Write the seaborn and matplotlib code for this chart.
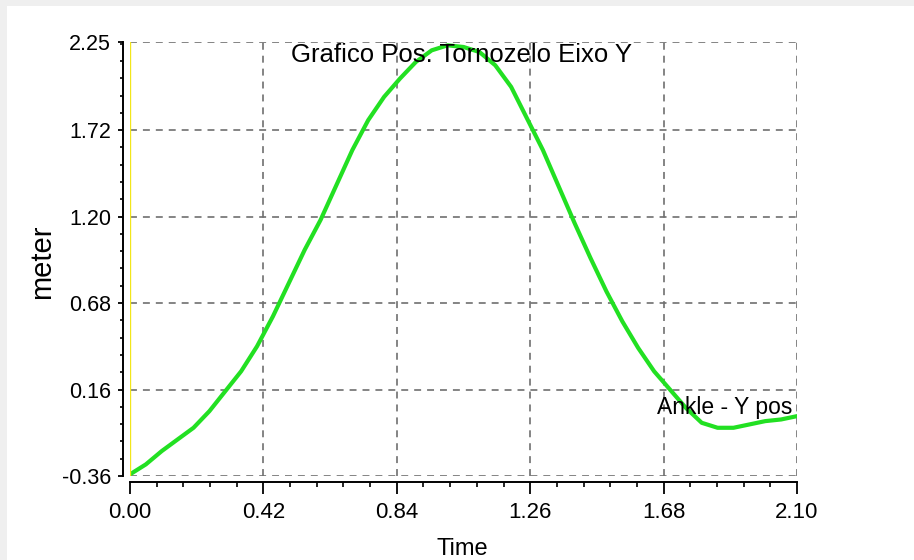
import matplotlib
matplotlib.use("Agg")
import matplotlib.pyplot as plt
import numpy as np
import pandas as pd
import seaborn as sns
from matplotlib.patches import Rectangle
from matplotlib.ticker import AutoMinorLocator, FixedLocator

# Values
time_s = [0.00, 0.05, 0.10, 0.15, 0.20, 0.25, 0.30, 0.35, 0.40, 0.45,
          0.50, 0.55, 0.60, 0.65, 0.70, 0.75, 0.80, 0.85, 0.90, 0.95,
          1.00, 1.05, 1.10, 1.15, 1.20, 1.25, 1.30, 1.35, 1.40, 1.45,
          1.50, 1.55, 1.60, 1.65, 1.70, 1.75, 1.80, 1.85, 1.90, 1.95,
          2.00, 2.05, 2.10]
ankle_y = [-0.35, -0.29, -0.21, -0.14, -0.07, 0.03, 0.15, 0.27, 0.42, 0.60,
           0.80, 1.00, 1.18, 1.39, 1.60, 1.78, 1.92, 2.03, 2.13, 2.20,
           2.23, 2.22, 2.19, 2.11, 1.98, 1.79, 1.60, 1.38, 1.16, 0.95,
           0.75, 0.57, 0.41, 0.27, 0.16, 0.05, -0.04, -0.07, -0.07, -0.05,
           -0.03, -0.02, 0.00]
cursor_time = [0.0]
x_ticks = [0.00, 0.42, 0.84, 1.26, 1.68, 2.10]
y_ticks = [-0.36, 0.16, 0.68, 1.20, 1.72, 2.25]

title = "Grafico Pos. Tornozelo Eixo Y"
series_name = "Ankle - Y pos"

df = pd.DataFrame({"Time": time_s, "meter": ankle_y})

sns.set_theme(style="ticks")
plt.rcParams["font.family"] = ["Liberation Sans Narrow", "Liberation Sans", "DejaVu Sans"]
plt.rcParams["lines.scale_dashes"] = False

fig = plt.figure(figsize=(9.14, 5.60), dpi=100, facecolor="#efefef")
# white panel inside the thin grey frame (top and left)
fig.patches.append(Rectangle((7 / 914, 0), 1, 1 - 6 / 560, transform=fig.transFigure,
                             facecolor="white", edgecolor="none", zorder=-10))
ax = fig.add_axes([130 / 914, 1 - 476 / 560, 667 / 914, 434 / 560])
ax.set_facecolor("white")

sns.lineplot(data=df, x="Time", y="meter", ax=ax, color="#22e022", linewidth=3.0,
             sort=False, estimator=None)
for c in cursor_time:
    ax.axvline(c, color="#f2e61a", linewidth=1.7, zorder=3)

ax.set_xlim(x_ticks[0], x_ticks[-1])
ax.set_ylim(y_ticks[0], y_ticks[-1])
ax.xaxis.set_major_locator(FixedLocator(x_ticks))
ax.yaxis.set_major_locator(FixedLocator(y_ticks))
ax.set_xticklabels([f"{v:.2f}" for v in x_ticks])
ax.set_yticklabels([f"{v:.2f}" for v in y_ticks])
ax.xaxis.set_minor_locator(AutoMinorLocator(5))
ax.yaxis.set_minor_locator(AutoMinorLocator(5))

ax.grid(True, which="major", color="#707070", linestyle=(0, (5, 4.3)), linewidth=1.2)

sns.despine(ax=ax, offset={"left": 5, "bottom": 4.5})
for side in ["left", "bottom"]:
    ax.spines[side].set_linewidth(1.4)
    ax.spines[side].set_color("black")

ax.tick_params(axis="x", which="major", length=8.5, width=1.3, pad=6, labelsize=16, colors="black")
ax.tick_params(axis="x", which="minor", length=3.6, width=1.2, colors="black")
ax.tick_params(axis="y", which="major", length=3.6, width=1.3, pad=5, labelsize=15.5, colors="black")
ax.tick_params(axis="y", which="minor", length=2.2, width=1.2, colors="black")

ax.set_ylabel("meter", fontsize=21, color="black", va="center")
ax.yaxis.set_label_coords(-0.132, 0.493)
ax.set_xlabel("Time", fontsize=17, color="black", va="top")
ax.xaxis.set_label_coords(0.498, -0.143)

ax.text(0.497, 0.954, title, transform=ax.transAxes, ha="center", va="baseline",
        fontsize=18.5, color="black")
ax.annotate(series_name, xy=(time_s[-1], ankle_y[-1]), xytext=(-3.6, 1.5),
            textcoords="offset points", ha="right", va="baseline", fontsize=16.5,
            color="black")

fig.savefig("out.png", dpi=100, facecolor=fig.get_facecolor())
